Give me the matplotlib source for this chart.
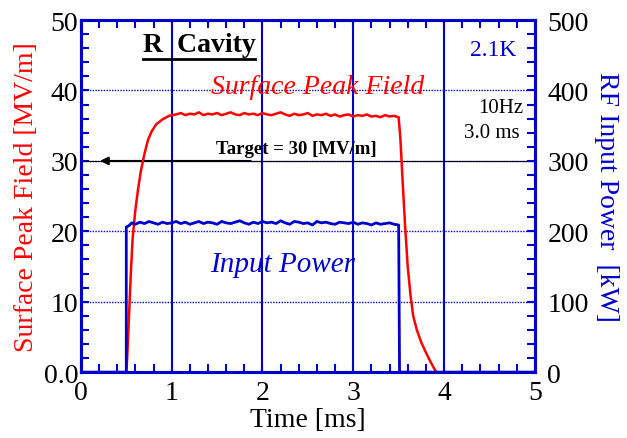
import matplotlib
matplotlib.use("Agg")
import matplotlib.pyplot as plt
from matplotlib.ticker import MultipleLocator, FuncFormatter

# --- data ---
field_t = [0.50, 0.51, 0.53, 0.55, 0.57, 0.60, 0.63, 0.66, 0.70, 0.74, 0.78, 0.83,
           0.90, 0.97, 1.05, 1.10, 1.15, 1.20, 1.25, 1.30, 1.35, 1.40, 1.45, 1.50,
           1.55, 1.60, 1.65, 1.70, 1.75, 1.80, 1.85, 1.90, 1.95, 2.00, 2.05, 2.10,
           2.15, 2.20, 2.25, 2.30, 2.35, 2.40, 2.45, 2.50, 2.55, 2.60, 2.65, 2.70,
           2.75, 2.80, 2.85, 2.90, 2.95, 3.00, 3.05, 3.10, 3.15, 3.20, 3.25, 3.30,
           3.35, 3.40, 3.45, 3.50, 3.52, 3.54, 3.57, 3.60, 3.63, 3.66, 3.70, 3.75,
           3.80, 3.85, 3.90, 3.92]
field_mv = [0.0, 2.0, 8.0, 14.0, 19.0, 23.0, 26.0, 28.5, 31.0, 33.0, 34.2, 35.2,
            35.9, 36.4, 36.6, 36.8, 36.5, 36.7, 36.6, 36.9, 36.5, 36.7, 36.6, 36.8,
            36.5, 36.7, 36.9, 36.6, 36.5, 36.8, 36.6, 36.7, 36.5, 36.8, 36.6, 36.5,
            36.7, 36.9, 36.6, 36.4, 36.7, 36.5, 36.6, 36.8, 36.4, 36.6, 36.5, 36.7,
            36.4, 36.6, 36.3, 36.5, 36.6, 36.3, 36.5, 36.4, 36.6, 36.3, 36.4, 36.2,
            36.5, 36.3, 36.4, 36.2, 33.0, 28.0, 21.0, 15.0, 11.0, 8.0, 6.0, 4.2,
            2.8, 1.5, 0.3, 0.0]

power_t = [0.00, 0.50, 0.50, 0.53, 0.56, 0.60, 0.65, 0.70, 0.75, 0.80, 0.85, 0.90,
           0.95, 1.00, 1.05, 1.10, 1.15, 1.20, 1.25, 1.30, 1.35, 1.40, 1.45, 1.50,
           1.55, 1.60, 1.65, 1.70, 1.75, 1.80, 1.85, 1.90, 1.95, 2.00, 2.05, 2.10,
           2.15, 2.20, 2.25, 2.30, 2.35, 2.40, 2.45, 2.50, 2.55, 2.60, 2.65, 2.70,
           2.75, 2.80, 2.85, 2.90, 2.95, 3.00, 3.05, 3.10, 3.15, 3.20, 3.25, 3.30,
           3.35, 3.40, 3.45, 3.50, 3.51, 5.00]
power_kw = [0, 0, 206, 208, 212, 210, 213, 211, 214, 212, 210, 213,
            211, 212, 214, 211, 213, 210, 212, 214, 211, 213, 212, 210,
            214, 212, 211, 213, 215, 212, 210, 213, 211, 214, 212, 213,
            211, 215, 212, 210, 214, 213, 211, 212, 209, 214, 212, 213,
            211, 210, 213, 212, 211, 213, 210, 212, 211, 209, 212, 210,
            211, 212, 210, 209, 0, 0]

BLUE = "#0000CC"
RED = "#FF0000"
SERIF = ["Liberation Serif", "DejaVu Serif"]

plt.rcParams["font.family"] = SERIF

fig = plt.figure(figsize=(6.27, 4.39), dpi=100)
ax = fig.add_axes([0.129, 0.150, 0.724, 0.802])
ax2 = ax.twinx()

# сетка: сплошные вертикали, пунктирные горизонтали
for t in [1, 2, 3, 4]:
    ax.axvline(t, color=BLUE, lw=1.5, zorder=1)
for v in [10, 20, 30, 40]:
    ax.axhline(v, color=BLUE, lw=1.0, ls=(0, (1, 1)), zorder=1)
ax.axhline(30, color="black", lw=0.8, zorder=2)
ax.annotate("", xy=(0.18, 30), xytext=(1.9, 30),
            arrowprops=dict(arrowstyle="-|>", color="black", lw=1.4,
                            mutation_scale=12), zorder=3)

ax.plot(field_t, field_mv, color=RED, lw=1.8, zorder=4)
ax2.plot(power_t, power_kw, color=BLUE, lw=2.0, zorder=4)

ax.set_xlim(0, 5)
ax.set_ylim(0, 50)
ax2.set_ylim(0, 500)

ax.xaxis.set_major_locator(MultipleLocator(1))
ax.xaxis.set_minor_locator(MultipleLocator(0.2))
ax.yaxis.set_major_locator(MultipleLocator(10))
ax.yaxis.set_minor_locator(MultipleLocator(2))
ax2.yaxis.set_major_locator(MultipleLocator(100))
ax2.yaxis.set_minor_locator(MultipleLocator(20))
ax.yaxis.set_major_formatter(FuncFormatter(lambda v, _: "0.0" if v == 0 else f"{v:.0f}"))

for a in (ax, ax2):
    for s in a.spines.values():
        s.set_color(BLUE)
        s.set_linewidth(2.2)
    a.tick_params(which="both", direction="in", color=BLUE, width=1.5,
                  length=6, labelsize=20, labelcolor="black")
ax.tick_params(axis="x", which="both", top=True, pad=6)
ax.tick_params(axis="y", pad=2)
ax2.tick_params(axis="y", pad=9)

ax.set_xlabel("Time [ms]", fontsize=20, labelpad=1)
ax.set_ylabel("Surface Peak Field [MV/m]", fontsize=20, color=RED, labelpad=3)
ax2.set_ylabel("RF Input Power  [kW]", fontsize=20, color=BLUE,
               rotation=270, labelpad=22)

# подписи на поле графика
title = ax.text(0.68, 46.6, "R  Cavity", fontsize=20, fontweight="bold",
                va="center", ha="left", zorder=5)
ax.text(4.80, 45.8, "2.1K", fontsize=17, color=BLUE, ha="right", va="center")
ax.text(4.87, 37.6, "10Hz", fontsize=15, ha="right", va="center")
ax.text(4.83, 34.1, "3.0 ms", fontsize=15, ha="right", va="center")
ax.text(2.61, 40.6, "Surface Peak Field", fontsize=20, style="italic",
        color=RED, ha="center", va="center", zorder=5)
ax.text(2.37, 31.7, "Target = 30 [MV/m]", fontsize=13.5, fontweight="bold",
        ha="center", va="center", zorder=5)
ax.text(2.22, 15.3, "Input Power", fontsize=21, style="italic",
        color=BLUE, ha="center", va="center", zorder=5)

# подчёркивание заголовка по его собственным границам
fig.canvas.draw()
bb = title.get_window_extent().transformed(ax.transData.inverted())
ax.plot([bb.x0, bb.x1], [bb.y0 - 0.3, bb.y0 - 0.3], color="black", lw=2, zorder=5)

fig.savefig("out.png", dpi=100)
